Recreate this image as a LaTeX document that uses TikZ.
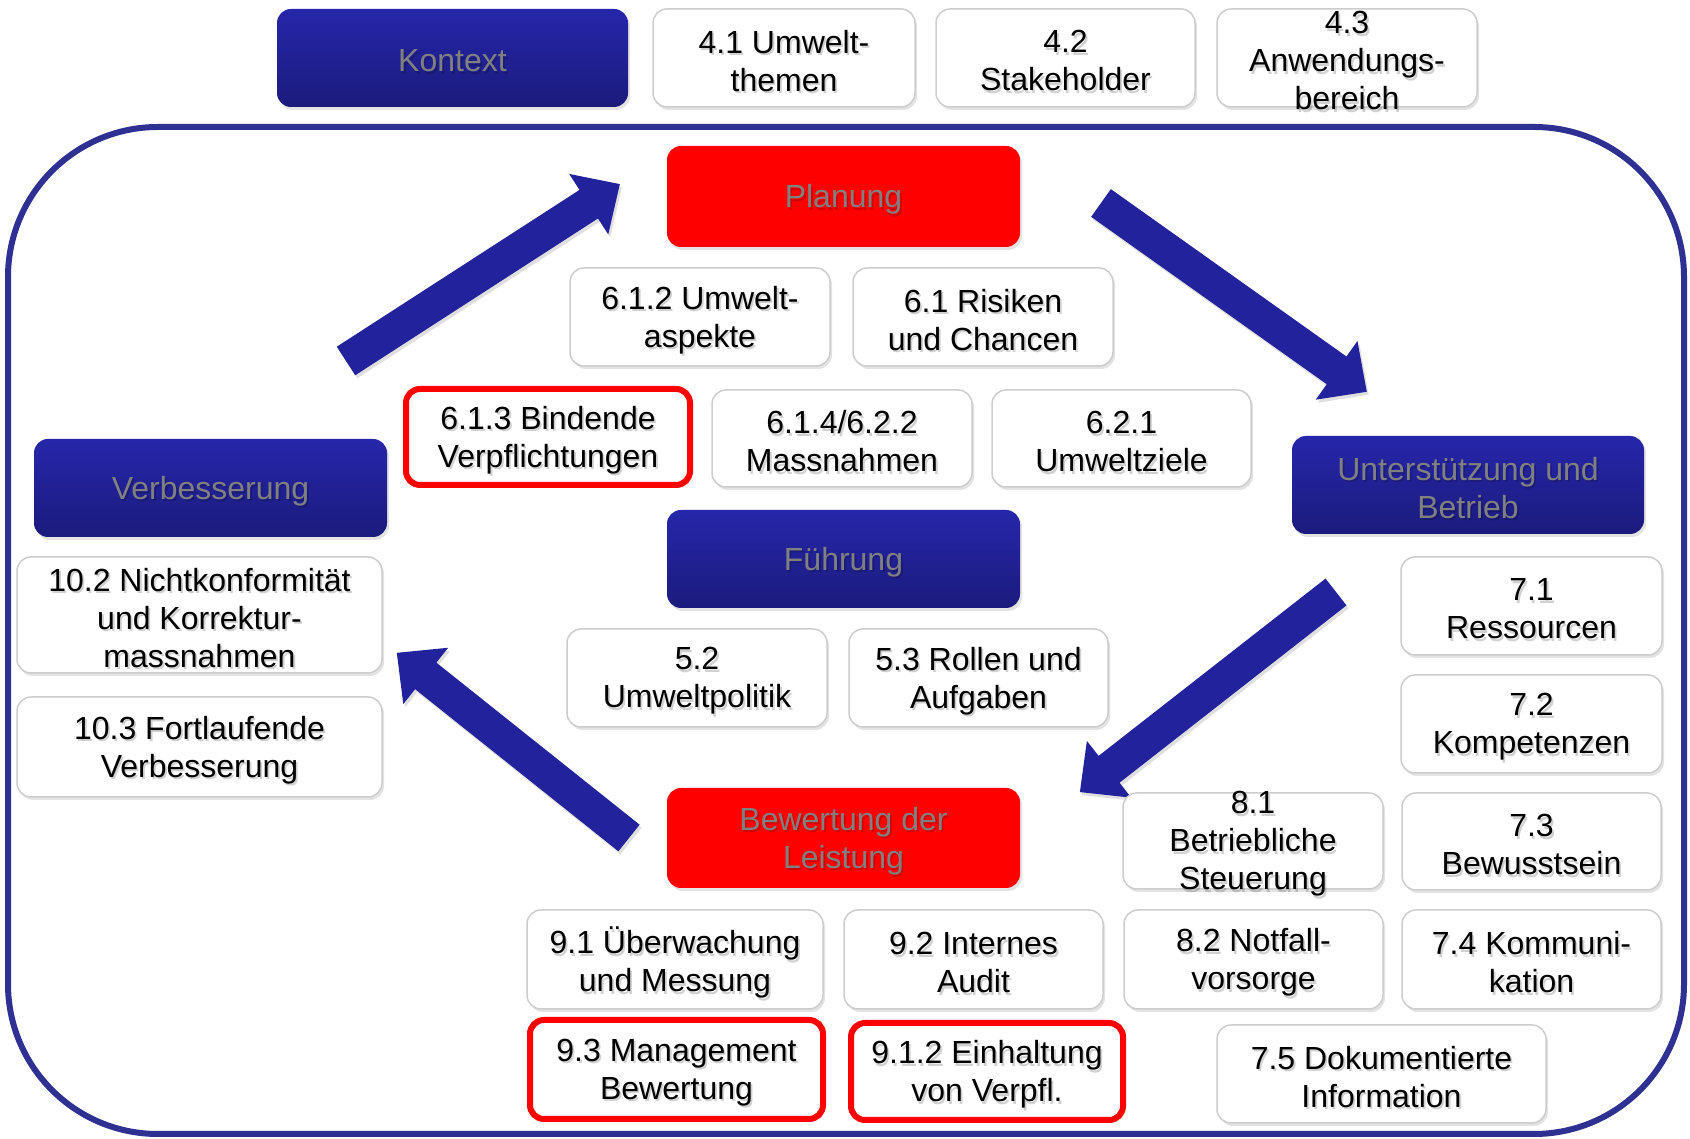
\documentclass[tikz,border=0pt]{standalone}
\usepackage{fontspec}
\setmainfont{Liberation Sans}
\usetikzlibrary{shadows}
\definecolor{framec}{RGB}{46,49,146}
\definecolor{bluetop}{RGB}{38,38,170}
\definecolor{bluebot}{RGB}{27,27,125}
\definecolor{arrowc}{RGB}{34,34,156}
\definecolor{graytext}{RGB}{128,128,128}
\definecolor{wborder}{RGB}{205,205,205}
\definecolor{redc}{RGB}{255,0,0}
\newcommand\bx[8]{%
  \node[#1, minimum width={#6-#4}, minimum height={#7-#5}] (#3) at ({(#4+#6)/2},{1139-(#5+#7)/2}) {};
  \node[#2, tshadow] (#3s) at ([xshift=1.8pt,yshift=-5.5pt]#3.center) {#8};
  \node[#2] (#3t) at ([yshift=-3pt]#3.center) {#8};}
\newcommand\blockarrow[3]{%
  \begin{scope}[shift={(#1)},rotate=#2]
    \fill[arr] (0,-17) -- ({#3-37},-17) -- ({#3-37},-36) -- (#3,0) -- ({#3-37},36) -- ({#3-37},17) -- (0,17) -- cycle;
  \end{scope}}
\begin{document}
\begin{tikzpicture}[x=1pt,y=1pt,
  base/.style={rounded corners=14pt, inner sep=0pt, drop shadow={shadow xshift=2pt,shadow yshift=-3pt,opacity=0.22}},
  wbox/.style={base, draw=wborder, line width=1.5pt, fill=white},
  bbox/.style={base, top color=bluetop, bottom color=bluebot, draw=none},
  rbox/.style={base, fill=redc, draw=none},
  obox/.style={base, draw=redc, line width=6pt, fill=white},
  btxt/.style={align=center, font=\fontsize{32}{38}\selectfont, text=black, inner sep=0pt},
  gtxt/.style={btxt, text=graytext},
  tshadow/.style={text=black, text opacity=0.18},
  arr/.style={fill=arrowc, drop shadow={shadow xshift=2pt,shadow yshift=-3pt,opacity=0.25}},
  frm/.style={draw=framec, line width=6pt, rounded corners=150pt}
]
\useasboundingbox (0,0) rectangle (1690,1139);
\fill[white] (0,0) rectangle (1690,1139);
% frame
\draw[frm] (8,5) rectangle (1684,1012);
% arrows
\coordinate (a1) at (346,778);
\coordinate (a2) at (1101,936);
\coordinate (a3) at (1336,547);
\coordinate (a4) at (629,301);
\blockarrow{a1}{32.86}{326}
\blockarrow{a2}{-35.39}{326}
\blockarrow{a3}{218.0}{325}
\blockarrow{a4}{141.43}{297}
% boxes
\bx{bbox}{gtxt}{kontext}{277}{9}{628}{107}{Kontext}
\bx{wbox}{btxt}{k41}{653}{9}{915}{107}{4.1 Umwelt-\\themen}
\bx{wbox}{btxt}{k42}{936}{9}{1195}{107}{4.2\\Stakeholder}
\bx{wbox}{btxt}{k43}{1217}{9}{1477}{107}{4.3\\Anwendungs-\\bereich}
\bx{rbox}{gtxt}{planung}{667}{146}{1020}{247}{Planung}
\bx{wbox}{btxt}{p612}{570}{268}{830}{366}{6.1.2 Umwelt-\\aspekte}
\bx{wbox}{btxt}{p61}{853}{268}{1113}{366}{6.1 Risiken\\und Chancen}
\bx{obox}{btxt}{p613}{406}{389}{690}{485}{6.1.3 Bindende\\Verpflichtungen}
\bx{wbox}{btxt}{p614}{712}{390}{972}{487}{6.1.4/6.2.2\\Massnahmen}
\bx{wbox}{btxt}{p621}{992}{390}{1251}{487}{6.2.1\\Umweltziele}
\bx{bbox}{gtxt}{verb}{34}{439}{387}{537}{Verbesserung}
\bx{bbox}{gtxt}{unter}{1292}{436}{1644}{534}{Unterstützung und\\Betrieb}
\bx{bbox}{gtxt}{fuehr}{667}{510}{1020}{608}{Führung}
\bx{wbox}{btxt}{v102}{17}{557}{382}{673}{10.2 Nichtkonformität\\und Korrektur-\\massnahmen}
\bx{wbox}{btxt}{v103}{17}{697}{382}{797}{10.3 Fortlaufende\\Verbesserung}
\bx{wbox}{btxt}{f52}{567}{629}{827}{727}{5.2\\Umweltpolitik}
\bx{wbox}{btxt}{f53}{849}{629}{1108}{727}{5.3 Rollen und\\Aufgaben}
\bx{wbox}{btxt}{u71}{1401}{557}{1662}{655}{7.1\\Ressourcen}
\bx{wbox}{btxt}{u72}{1401}{675}{1662}{773}{7.2\\Kompetenzen}
\bx{rbox}{gtxt}{bew}{667}{788}{1020}{888}{Bewertung der\\Leistung}
\bx{wbox}{btxt}{u81}{1123}{793}{1383}{889}{8.1\\Betriebliche\\Steuerung}
\bx{wbox}{btxt}{u73}{1402}{793}{1661}{890}{7.3\\Bewusstsein}
\bx{wbox}{btxt}{b91}{527}{910}{823}{1009}{9.1 Überwachung\\und Messung}
\bx{wbox}{btxt}{b92}{844}{910}{1103}{1009}{9.2 Internes\\Audit}
\bx{wbox}{btxt}{u82}{1124}{910}{1383}{1009}{8.2 Notfall-\\vorsorge}
\bx{wbox}{btxt}{u74}{1402}{910}{1661}{1009}{7.4 Kommuni-\\kation}
\bx{obox}{btxt}{b93}{530}{1020}{823}{1119}{9.3 Management\\Bewertung}
\bx{obox}{btxt}{b912}{851}{1023}{1123}{1120}{9.1.2 Einhaltung\\von Verpfl.}
\bx{wbox}{btxt}{u75}{1217}{1025}{1546}{1123}{7.5 Dokumentierte\\Information}
\end{tikzpicture}
\end{document}
